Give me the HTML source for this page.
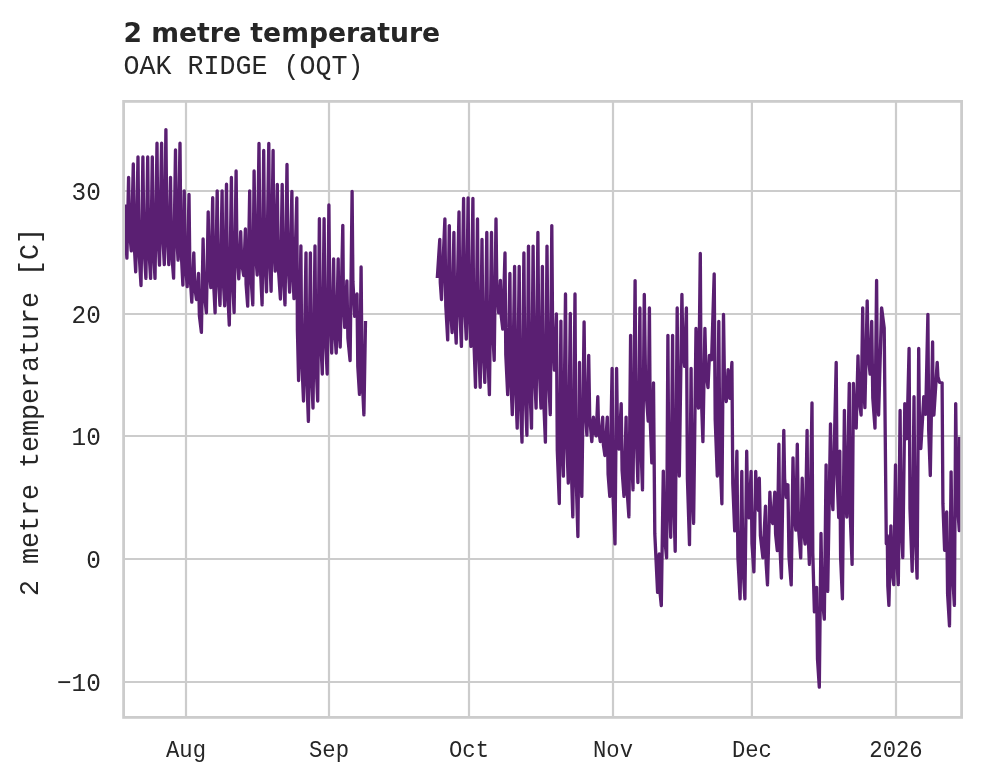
<!DOCTYPE html>
<html lang="en"><head><meta charset="utf-8"><title>2 metre temperature</title>
<style>html,body{margin:0;padding:0;background:#fff;width:981px;height:782px;overflow:hidden}</style></head>
<body>
<svg width="981" height="782" viewBox="0 0 981 782" style="position:absolute;left:0;top:0">
<rect width="981" height="782" fill="#fff"/>
<g stroke="#cccccc" stroke-width="2.2" fill="none">
<line x1="186.0" y1="101.4" x2="186.0" y2="717.4"/>
<line x1="329.0" y1="101.4" x2="329.0" y2="717.4"/>
<line x1="469.0" y1="101.4" x2="469.0" y2="717.4"/>
<line x1="613.0" y1="101.4" x2="613.0" y2="717.4"/>
<line x1="751.9" y1="101.4" x2="751.9" y2="717.4"/>
<line x1="896.0" y1="101.4" x2="896.0" y2="717.4"/>
<line x1="123.6" y1="191.0" x2="961.6" y2="191.0"/>
<line x1="123.6" y1="314.0" x2="961.6" y2="314.0"/>
<line x1="123.6" y1="436.0" x2="961.6" y2="436.0"/>
<line x1="123.6" y1="559.0" x2="961.6" y2="559.0"/>
<line x1="123.6" y1="682.0" x2="961.6" y2="682.0"/>
</g>
<clipPath id="c"><rect x="123.6" y="101.4" width="838.0" height="616.0"/></clipPath>
<g clip-path="url(#c)" stroke="#5a1f72" stroke-width="3.33" fill="none" stroke-linejoin="round" stroke-linecap="butt">
<path d="M125.6 204.5 L126.0 243.2 L126.9 258.2 L128.6 177.5 L129.5 230.4 L131.3 250.9 L133.3 164.0 L134.1 241.6 L135.7 271.8 L138.0 156.9 L138.9 249.5 L141.0 285.5 L142.9 156.9 L143.9 244.4 L145.9 278.4 L147.7 156.9 L148.6 244.4 L150.6 278.4 L152.3 156.9 L153.2 244.4 L155.0 278.4 L157.0 143.2 L157.8 231.0 L159.5 265.1 L161.6 143.2 L162.5 230.6 L164.3 264.6 L165.9 129.6 L166.8 226.8 L168.8 264.6 L170.5 177.3 L171.5 249.9 L173.6 278.2 L175.5 150.0 L176.3 229.4 L178.1 260.2 L180.0 143.2 L180.9 245.4 L182.9 285.1 L184.2 190.8 L185.2 259.8 L187.2 286.6 L189.0 194.5 L189.9 272.0 L191.8 302.1 L193.8 252.9 L194.7 286.4 L196.5 299.5 L198.5 273.5 L199.4 315.9 L201.4 332.4 L203.1 239.0 L204.2 292.1 L206.4 312.8 L208.2 211.8 L209.0 266.3 L210.8 287.5 L212.7 197.7 L213.5 280.5 L215.1 312.8 L217.2 190.8 L218.1 273.3 L220.0 305.4 L222.1 190.8 L222.9 273.6 L224.7 305.8 L226.5 184.2 L227.4 285.7 L229.3 325.1 L231.4 177.5 L232.3 274.7 L234.1 312.5 L236.1 170.9 L236.9 248.6 L238.8 278.8 L240.7 231.7 L241.7 263.2 L243.7 275.5 L245.4 229.0 L246.1 284.5 L247.7 306.1 L249.7 190.8 L250.7 273.0 L252.8 304.9 L254.1 170.9 L255.1 245.8 L257.2 275.0 L259.0 143.5 L260.0 259.7 L262.1 304.9 L263.7 150.5 L264.6 252.3 L266.5 291.8 L268.8 143.5 L269.5 249.9 L271.1 291.3 L273.1 150.5 L273.7 237.4 L275.2 271.2 L277.3 184.4 L278.3 266.9 L280.4 299.0 L282.2 184.4 L283.1 271.2 L285.0 304.9 L287.0 164.4 L287.8 256.4 L289.6 292.2 L291.9 191.4 L292.6 268.7 L294.0 298.7 L296.8 198.0 L297.4 329.4 L298.6 380.5 L300.9 245.9 L301.7 357.6 L303.5 401.0 L306.0 252.8 L306.7 374.2 L308.4 421.4 L310.4 252.8 L311.2 364.6 L313.0 408.0 L315.0 245.9 L315.8 357.6 L317.7 401.0 L319.4 218.7 L320.3 330.5 L322.3 374.0 L324.1 218.7 L325.1 330.5 L327.2 374.0 L328.9 205.0 L329.8 311.6 L331.7 353.0 L333.6 259.0 L334.5 326.7 L336.2 353.0 L338.2 259.0 L338.8 322.3 L340.2 347.0 L342.8 225.3 L343.4 298.8 L344.7 327.3 L346.9 280.8 L347.9 338.2 L350.1 360.6 L352.1 191.4 L352.9 281.4 L354.7 316.4 L357.0 293.9 L357.8 366.3 L359.5 394.4 L361.1 266.9 L362.0 373.4 L363.9 414.9 L365.5 321.0"/>
<path d="M437.3 278.0 L439.8 239.4 L440.3 282.6 L441.5 299.5 L444.9 218.9 L445.8 306.0 L447.7 339.9 L449.3 225.6 L450.2 302.6 L452.1 332.5 L453.9 232.5 L454.6 312.2 L456.2 343.2 L459.0 212.0 L459.8 308.8 L461.4 346.4 L463.6 198.5 L464.4 299.7 L466.3 339.1 L468.1 197.8 L469.0 304.8 L470.9 346.4 L472.9 198.5 L473.7 334.5 L475.5 387.3 L477.5 218.9 L478.4 340.2 L480.2 387.3 L482.0 239.4 L482.9 342.4 L484.8 382.4 L486.8 232.5 L487.6 349.3 L489.4 394.7 L491.5 232.5 L492.4 324.5 L494.2 360.3 L496.0 218.9 L496.8 286.6 L498.7 312.9 L500.4 280.3 L501.2 315.5 L502.8 329.2 L505.0 253.0 L505.8 355.0 L507.7 394.7 L509.9 273.4 L510.7 375.1 L512.3 414.7 L514.6 266.5 L515.5 383.0 L517.2 428.2 L519.2 266.5 L520.1 393.0 L522.0 442.2 L523.9 253.0 L524.9 384.2 L526.9 435.3 L528.5 246.1 L529.5 377.2 L531.5 428.2 L533.1 246.1 L534.1 362.7 L536.1 408.1 L537.9 232.5 L538.9 358.9 L541.0 408.1 L542.4 266.5 L543.4 393.0 L545.4 442.2 L547.0 246.1 L548.1 367.5 L550.3 414.7 L551.8 225.6 L552.6 329.7 L554.4 370.2 L556.4 314.0 L557.3 450.5 L559.3 503.5 L560.9 321.1 L561.7 432.8 L563.4 476.2 L565.5 293.9 L566.4 430.1 L568.3 483.1 L570.3 313.5 L571.1 459.9 L572.8 516.9 L575.0 293.9 L575.9 468.6 L577.9 536.5 L579.5 362.5 L580.2 458.9 L581.8 496.4 L584.1 321.9 L585.0 403.4 L586.9 435.1 L588.7 355.4 L589.7 417.5 L591.8 441.6 L593.4 417.1 L594.3 430.6 L596.2 435.9 L597.8 396.7 L598.6 429.0 L600.3 441.6 L602.7 417.1 L603.4 444.8 L604.9 455.5 L607.3 417.1 L608.1 474.2 L609.8 496.4 L612.1 368.5 L613.0 494.8 L615.0 543.9 L616.6 368.5 L617.4 426.5 L619.1 449.0 L621.2 403.7 L622.1 470.5 L624.0 496.4 L626.1 417.1 L627.0 489.0 L628.9 516.9 L630.6 335.3 L631.3 446.6 L633.0 489.9 L635.1 280.6 L636.0 426.0 L637.9 482.5 L639.9 308.0 L640.7 438.9 L642.5 489.9 L644.3 294.4 L645.6 385.7 L648.2 421.2 L649.4 308.0 L650.2 419.5 L651.8 462.9 L653.5 382.8 L654.8 533.7 L657.6 592.4 L659.2 554.0 L659.9 591.1 L661.3 605.5 L663.3 471.1 L664.3 533.5 L666.6 557.8 L667.9 335.3 L668.8 480.8 L670.7 537.3 L672.6 335.3 L673.5 490.8 L675.2 551.3 L677.2 308.0 L677.9 428.9 L679.3 476.0 L681.9 294.4 L682.8 346.2 L684.6 366.3 L686.4 308.0 L687.4 478.4 L689.5 544.7 L691.1 368.5 L691.9 480.1 L693.6 523.4 L696.0 328.4 L696.8 385.8 L698.5 408.1 L700.3 253.5 L701.1 388.9 L702.9 441.6 L704.9 328.4 L705.9 371.0 L708.0 387.6 L709.4 355.4 L710.1 358.6 L711.6 359.8 L714.2 273.9 L715.2 419.4 L717.3 476.0 L718.8 321.5 L719.8 452.8 L721.9 503.8 L723.5 314.5 L724.4 377.2 L726.3 401.5 L728.1 369.7 L728.7 390.3 L729.8 398.3 L731.9 362.5 L732.8 483.7 L734.7 530.9 L736.9 451.2 L737.9 557.5 L740.1 598.8 L741.8 471.4 L742.8 563.1 L744.9 598.8 L746.7 451.2 L747.5 499.2 L749.1 517.8 L751.1 471.4 L752.0 543.7 L753.9 571.8 L755.7 471.4 L756.6 499.5 L758.5 510.4 L759.3 478.2 L760.4 535.6 L762.9 557.9 L765.5 506.1 L766.1 562.8 L767.5 584.9 L769.9 492.1 L770.8 514.7 L772.7 523.5 L774.8 492.1 L775.6 534.2 L777.3 550.5 L778.9 444.2 L779.7 540.5 L781.4 578.0 L783.8 430.4 L784.6 478.6 L786.3 497.3 L787.9 484.8 L789.0 556.9 L791.2 584.9 L793.0 457.8 L793.9 509.8 L795.8 530.1 L797.3 444.2 L798.4 526.1 L800.7 557.9 L802.2 478.2 L803.1 525.6 L805.1 544.0 L807.1 430.4 L807.8 526.9 L809.4 564.4 L812.0 402.9 L812.8 553.4 L814.4 611.9 L816.6 587.4 L817.5 659.2 L819.3 687.2 L821.0 533.4 L822.0 595.2 L824.3 619.2 L826.1 464.8 L826.6 556.0 L827.7 591.4 L830.5 423.9 L831.3 485.6 L832.9 509.6 L836.2 362.5 L837.0 474.1 L838.7 517.5 L839.8 451.2 L840.6 557.5 L842.4 598.8 L844.4 410.3 L845.2 487.1 L846.8 517.0 L849.3 383.3 L850.2 513.7 L852.1 564.4 L853.4 383.3 L854.3 415.5 L856.2 428.1 L858.0 355.8 L859.0 398.4 L861.1 415.0 L862.7 307.8 L863.4 379.7 L864.9 407.6 L867.2 300.9 L868.1 353.6 L870.1 374.1 L871.7 321.4 L872.8 398.2 L875.0 428.1 L876.6 280.5 L877.3 377.3 L878.6 415.0 L881.6 307.8 L884.2 328.0 L886.3 543.8 L887.3 535.7 L887.8 585.9 L888.9 605.4 L890.9 525.9 L891.8 568.2 L893.8 584.7 L895.5 465.0 L896.4 551.2 L898.3 584.7 L900.1 410.5 L900.9 516.5 L902.8 557.7 L904.8 403.6 L905.5 428.9 L906.9 438.7 L909.1 348.4 L910.0 508.9 L912.2 571.3 L914.0 396.7 L915.0 527.4 L917.1 578.2 L918.7 348.4 L919.4 420.5 L920.8 448.5 L923.8 396.7 L924.4 409.3 L925.7 414.2 L927.9 314.4 L928.7 430.4 L930.3 475.5 L932.6 341.9 L933.0 394.5 L933.9 415.0 L937.2 362.3 L937.9 376.7 L939.5 382.2 L940.3 382.6 L942.1 382.8 L942.9 503.4 L944.6 550.3 L946.7 511.9 L947.6 594.0 L949.5 625.9 L951.1 471.8 L952.2 568.0 L954.4 605.4 L955.7 403.6 L956.8 495.1 L959.3 530.7 L959.6 437.0"/>
</g>
<rect x="123.6" y="101.4" width="838.0" height="616.0" fill="none" stroke="#cccccc" stroke-width="2.8"/>
<g fill="#262626" font-family="'Liberation Mono', 'DejaVu Sans Mono', monospace">
<text transform="translate(186.0,756.7) scale(1,1.070)" text-anchor="middle" font-size="22.2">Aug</text>
<text transform="translate(329.0,756.7) scale(1,1.070)" text-anchor="middle" font-size="22.2">Sep</text>
<text transform="translate(469.0,756.7) scale(1,1.070)" text-anchor="middle" font-size="22.2">Oct</text>
<text transform="translate(613.0,756.7) scale(1,1.070)" text-anchor="middle" font-size="22.2">Nov</text>
<text transform="translate(751.9,756.7) scale(1,1.070)" text-anchor="middle" font-size="22.2">Dec</text>
<text transform="translate(896.0,756.7) scale(1,1.070)" text-anchor="middle" font-size="22.2">2026</text>
<text transform="translate(100.8,200.0) scale(1,1.070)" text-anchor="end" font-size="24.4">30</text>
<text transform="translate(100.8,323.0) scale(1,1.070)" text-anchor="end" font-size="24.4">20</text>
<text transform="translate(100.8,445.0) scale(1,1.070)" text-anchor="end" font-size="24.4">10</text>
<text transform="translate(100.8,568.0) scale(1,1.070)" text-anchor="end" font-size="24.4">0</text>
<text transform="translate(100.8,691.0) scale(1,1.070)" text-anchor="end" font-size="24.4">−10</text>
<text transform="translate(38.3,412.0) rotate(-90) scale(1,1.070)" text-anchor="middle" font-size="26.67">2 metre temperature [C]</text>
<text transform="translate(123.4,73.5) scale(1,1.070)" text-anchor="start" font-size="26.67">OAK RIDGE (OQT)</text>
</g>
<text x="123.4" y="42" fill="#262626" font-family="'DejaVu Sans', 'Liberation Sans', sans-serif" font-weight="bold" font-size="26.67">2 metre temperature</text>
</svg>
</body></html>
